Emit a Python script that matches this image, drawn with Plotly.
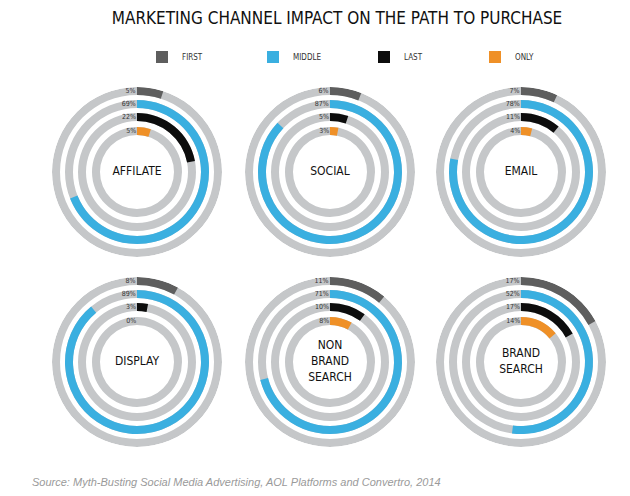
import plotly.graph_objects as go

# data (percent of conversions)
channels = ["AFFILATE", "SOCIAL", "EMAIL", "DISPLAY", "NON<br>BRAND<br>SEARCH", "BRAND<br>SEARCH"]
first = [5, 6, 7, 8, 11, 17]
middle = [69, 87, 78, 89, 71, 52]
last = [22, 5, 11, 3, 10, 17]
only = [5, 3, 4, 0, 8, 14]

series_names = ["FIRST", "MIDDLE", "LAST", "ONLY"]
series_colors = ["#5e5e5e", "#3aafe0", "#0d0d0d", "#ef9027"]
ring_gray = "#c5c7c9"

# ring geometry in radial units (radial axis is 0..85)
ring_base = [77, 64, 51, 37]
ring_w = 8

# page has an 8px body margin, so the figure sits at (8, 8)
OFF = 8
W, H = 630 - OFF, 496 - OFF
centers_x = [137, 330, 521]
centers_y = [172, 362]
R = 85


def px(x):
    return (x - OFF) / W


def py(y):
    return 1 - (y - OFF) / H


fig = go.Figure()
layout = {}

for i, name in enumerate(channels):
    row, col = divmod(i, 3)
    pid = "polar" if i == 0 else "polar%d" % (i + 1)
    cx, cy = centers_x[col], centers_y[row]
    layout[pid] = dict(
        domain=dict(x=[px(cx - R), px(cx + R)], y=[py(cy + R), py(cy - R)]),
        bgcolor="white",
        radialaxis=dict(range=[0, R], visible=False),
        angularaxis=dict(rotation=90, direction="clockwise", visible=False),
        bargap=0,
    )
    vals = [first[i], middle[i], last[i], only[i]]

    # gray background rings
    fig.add_trace(go.Barpolar(
        r=[ring_w] * 4, base=ring_base, theta=[180] * 4, width=[360] * 4,
        marker=dict(color=ring_gray, line=dict(width=0)),
        showlegend=False, hoverinfo="skip", subplot=pid))

    # coloured arcs, clockwise from 12 o'clock
    for k, v in enumerate(vals):
        fig.add_trace(go.Barpolar(
            r=[ring_w], base=[ring_base[k]], theta=[v * 3.6 / 2], width=[v * 3.6],
            marker=dict(color=series_colors[k], line=dict(width=0)),
            name=series_names[k], legendgroup=series_names[k],
            showlegend=(i == 0), subplot=pid))

    # percent labels left of the 12 o'clock point
    fig.add_trace(go.Scatterpolar(
        r=[b + ring_w / 2 for b in ring_base], theta=[-1] * 4,
        mode="text", text=["%d%%" % v for v in vals],
        textposition="middle left",
        textfont=dict(size=7, color="#333333", family="DejaVu Sans Condensed"),
        showlegend=False, hoverinfo="skip", subplot=pid))

    # channel name in the middle
    fig.add_trace(go.Scatterpolar(
        r=[0], theta=[0], mode="text", text=[name],
        textposition="middle center",
        textfont=dict(size=12, color="#111111", family="DejaVu Sans Condensed"),
        showlegend=False, hoverinfo="skip", subplot=pid))

fig.update_layout(**layout)
fig.update_layout(
    width=W, height=H,
    margin=dict(l=0, r=0, t=0, b=0),
    paper_bgcolor="white",
    title=dict(text="MARKETING CHANNEL IMPACT ON THE PATH TO PURCHASE",
               x=px(337), xanchor="center", y=py(18), yanchor="middle",
               font=dict(size=17, color="#111111", family="DejaVu Sans Condensed")),
    legend=dict(orientation="h", x=px(142), xanchor="left", y=py(57), yanchor="middle",
                entrywidth=66, font=dict(size=8, color="#333333", family="DejaVu Sans Condensed"),
                bgcolor="rgba(0,0,0,0)", traceorder="normal", itemclick=False),
    annotations=[dict(
        text="Source: Myth-Busting Social Media Advertising, AOL Platforms and Convertro, 2014",
        x=px(30), y=py(482), xref="paper", yref="paper", xanchor="left", yanchor="middle",
        showarrow=False,
        font=dict(size=11, color="#9a9a9a", family="Liberation Sans", style="italic"))],
)

fig.write_html("out.html")
